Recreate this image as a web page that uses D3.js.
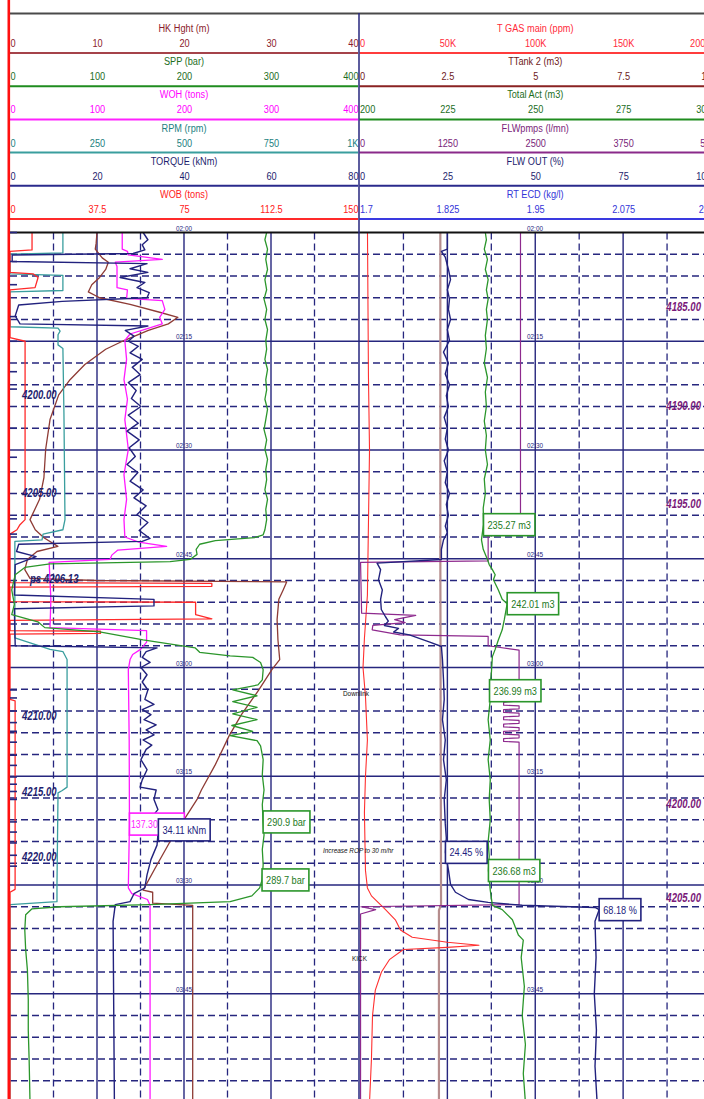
<!DOCTYPE html>
<html>
<head>
<meta charset="utf-8">
<script src="https://cdn.jsdelivr.net/npm/d3@7"></script>
<style>
  html, body { margin: 0; padding: 0; background: #fff; }
  svg { display: block; }
  text { font-family: "Liberation Sans", Arial, sans-serif; }
</style>
</head>
<body>
<svg id="log" width="704" height="1099"></svg>
<script>
// ---------- scale headers (title, domain, tick labels) ----------
const leftScaleNames  = ["HK Hght (m)", "SPP (bar)", "WOH (tons)", "RPM (rpm)", "TORQUE (kNm)", "WOB (tons)"];
const leftDomains     = [[0, 40], [0, 400], [0, 400], [0, 1000], [0, 80], [0, 150]];
const leftTickLabels  = [
  ["0", "10", "20", "30", "40"],
  ["0", "100", "200", "300", "400"],
  ["0", "100", "200", "300", "400"],
  ["0", "250", "500", "750", "1K"],
  ["0", "20", "40", "60", "80"],
  ["0", "37.5", "75", "112.5", "150"]
];
const rightScaleNames = ["T GAS main (ppm)", "TTank 2 (m3)", "Total Act (m3)", "FLWpmps (l/mn)", "FLW OUT (%)", "RT ECD (kg/l)"];
const rightDomains    = [[0, 200000], [0, 10], [200, 300], [0, 5000], [0, 100], [1.7, 2.2]];
const rightTickLabels = [
  ["0", "50K", "100K", "150K", "200K"],
  ["0", "2.5", "5", "7.5", "10"],
  ["200", "225", "250", "275", "300"],
  ["0", "1250", "2500", "3750", "5K"],
  ["0", "25", "50", "75", "100"],
  ["1.7", "1.825", "1.95", "2.075", "2.2"]
];

// ---------- time-indexed curves: [minutes after 02:00, value] ----------
const sppBar = [
  [0,295],[1,293],[2.3,296],[3.7,294],[5.1,296],[6.5,293],[7.9,295],[9.2,292],[10.6,295],[12,293],
  [13.4,296],[14.9,294],[16.1,295],[17.5,293],[18.9,296],[20.3,294],[21.7,295],[23,293],[24.4,296],
  [25.8,294],[27.2,292],[28.6,295],[29.9,293],[31.3,296],[32.7,294],[34.1,295],[35.5,293],[36.8,296],
  [38.2,294],[39.6,295],[41,293],[41.7,291],[42.1,281],[42.5,236],[43,218],[43.7,214],[44.4,215],
  [45.1,207],[45.4,184],[45.7,46],[46.2,17],[47.2,6],[49.3,2],[51.3,5],[52.7,2],[53.7,32],[54.5,40],
  [55.1,103],[56.2,153],[57.3,213],[57.9,218],[58.4,253],[58.6,279],[59.3,288],[60.3,291],[61.7,290],
  [62.4,285],[63.1,256],[63.9,284],[64.7,256],[65.5,284],[66.4,256],[67.2,284],[68,255],[68.8,279],
  [69.4,253],[70.1,284],[70.8,288],[72.7,291],[74.8,290],[76.9,292],[78.9,290],[81.3,290.9],[83.1,292],
  [85.1,290],[87.2,291],[89.3,289.7],[90.4,287],[91.5,278],[92.3,253],[92.7,161],[93,57],[93.3,25],
  [94.1,18],[96.2,17],[98.9,18],[101.7,20],[105.8,21],[110,21],[114.1,22],[120,23]
];
const hookHeight = [
  [0,10],[1.5,9.9],[2.3,9.8],[3.5,10.6],[4.1,11.3],[5.1,11],[6.2,10.3],[7.2,9.4],[8.2,9],[9,10.3],
  [9.9,13.8],[11,17.2],[11.7,19.3],[12.6,18.2],[13.5,15.9],[14.9,13.1],[16.1,11],[18.2,8.6],[20.3,6.9],
  [22.4,5.6],[25.8,4.6],[29.9,4.1],[33.8,3.9],[36.8,3.4],[39.6,2.3],[41,2.9],[42.1,3.9],[43.3,5.5],
  [44,3.1],[45.1,2],[46.5,1.7],[47.7,2.3],[48,9.9],[48.2,31.8],[49.3,31.4],[50.6,30.9],[53.4,30.7],
  [56.2,30.8],[58.9,31],[60.3,30.1],[63.1,28.6],[66.5,26.6],[69.4,25.2],[73.4,23.6],[76.9,22],
  [78.2,21.5],[83.8,18.5],[87.2,16.9],[90.7,15.3],[91,16.4],[92.5,16.4],[92.8,21],[120,21]
];
const wohTons = [
  [0,129],[2.3,129],[2.6,135],[3.1,136],[3.7,175],[4.1,121],[4.7,123],[7.6,123],[7.9,135],[9.1,134],
  [9.4,175],[10.6,178],[11.7,172],[12.6,175],[13.3,157],[14,138],[14.9,132],[17.5,134],[20.3,131],
  [23,135],[25.8,132],[29.9,136],[33.4,131],[36.8,134],[39.6,131],[42,132],[42.7,148],[43.3,180],
  [43.8,124],[44.5,117],[45.1,115],[45.5,45],[50.6,47],[54.5,46],[54.9,157],[56.5,157],[57.5,150],
  [58.2,141],[58.9,138],[60.3,136],[70,137],[81.6,137.3],[90.4,136],[91.2,140],[92,158],[92.8,161],[120,161]
];
const rpm = [
  [0,152],[2.8,152],[3,0],[5.7,0],[5.9,152],[8,152],[8.2,0],[13,0],[13.2,138],[13.6,144],[14.1,138],
  [15.5,138],[16,152],[25,155],[39.6,158],[41,152],[41.6,95],[42.4,92],[42.6,14],[55.9,14],[56.6,58],
  [57.5,115],[57.8,152],[58.9,164],[76.5,164],[77,149],[77.3,138],[89.9,135],[92.3,135],[92.7,0],[120,0]
];
const torqueKNm = [
  [0,30.6],[1,31.7],[1.7,30.4],[2.4,31],[2.9,28.3],[3.1,0.5],[4,0.5],[4.3,31.5],[5,27.6],[5.5,31.7],
  [6.2,25.3],[6.9,31],[7.6,29.2],[8.3,32],[9,31.5],[9.5,12],[10,2],[11.5,1.2],[12.6,2.3],[12.9,31.7],
  [13.5,26.5],[14.3,28.5],[15,27.2],[15.7,29.5],[16.6,27.6],[17.5,30.4],[18.6,28.1],[19.6,29.9],
  [20.7,27.2],[21.8,29],[22.9,27.9],[24,30.1],[25.2,27.2],[26.3,29.5],[27.4,26.9],[28.6,29.7],
  [29.7,27.4],[30.9,28.8],[32,26.9],[33.1,29.4],[34.3,27.6],[35.5,30.6],[36.6,28.5],[37.7,31.3],
  [38.9,29.2],[40,31.7],[41.1,29.7],[42.2,32.2],[42.6,30.4],[43,2],[44,1.5],[44.7,6],[45.8,1.2],
  [50,1],[50.6,33.1],[51.5,33.1],[51.9,1],[57,1.2],[57.3,33.8],[57.8,31.3],[58.6,30.4],[59.3,32.2],
  [60,30.1],[61,31.5],[62,30.4],[63.1,31.7],[64.4,31],[65.1,33.1],[65.8,30.4],[66.5,32.4],[67.2,30.8],
  [67.9,33.6],[68.6,31.3],[69.3,33.1],[70,30.6],[70.7,32.6],[71.3,31.3],[72.7,30.1],[74.1,31.5],
  [75.5,30.4],[76.5,29.9],[76.9,33.6],[78.2,33.1],[79.6,34],[80.6,32.6],[82.4,34.11],[84.5,33.8],
  [86.5,32.4],[88.6,31.5],[90.4,31],[91.2,28.5],[92.3,27.6],[92.7,24.2],[95,23.7],[120,24]
];
const wobTons = [
  [0,9.5],[2.4,9.5],[2.6,0],[5.5,0],[5.7,9.9],[6.2,12.1],[7.6,10.8],[7.9,0],[14.5,0],[15,6.5],
  [39.6,6.5],[40.3,4.3],[41,3],[41.6,0],[48.3,0],[48.4,87],[48.8,87],[48.9,0],[50.9,0],[51,80],
  [52.7,80],[53.3,87],[53.5,0],[54.9,0],[55,39],[55.3,39],[55.4,0],[64.4,0],[64.6,2.2],[90.6,2.2],
  [91,0],[120,0]
];
const totalGas = [
  [0,4540],[20,5100],[30,5700],[40,5100],[50,4500],[56,2800],[60,2000],[64,3400],[70,4500],[75,3400],
  [80,2800],[88,3400],[90.4,4500],[91.5,6800],[93.4,14800],[94.8,20400],[96.2,23300],[97.2,30000],
  [97.9,50000],[98.3,68000],[98.6,50000],[98.9,25000],[100.3,17000],[102,12500],[104.5,9000],
  [108,7400],[114,6800],[120,5700]
];
const tripTank2 = [[0,2.3],[45,2.3],[92.7,2.32],[93.5,2.26],[120,2.26]];
const totalActive = [
  [0,235.8],[1,236.1],[2.3,235.5],[3.7,236.4],[5.1,235.8],[6.5,236.6],[7.9,236.1],[9.2,236.6],
  [10.6,236.1],[12,236.4],[14.2,235.8],[16,236.1],[18,235.5],[20,236.4],[22,235.8],[24,236.1],
  [26,235.5],[28,236.1],[30,235.8],[32,236.4],[34,235.5],[36,235.8],[38,235.2],[40.3,235.27],
  [42.4,234.7],[43.7,235.2],[45.1,236.4],[45.8,236.9],[46.5,237.8],[47.2,238.6],[47.9,238.1],
  [49.3,239.5],[50.6,240.6],[51.2,242.01],[53.4,241.2],[54.8,240.6],[56.2,239.5],[57.5,238.6],
  [58.5,237.8],[60.9,237.5],[63.2,236.99],[64.4,237.2],[67.2,236.6],[70,237.2],[72.7,236.6],
  [75.5,237.2],[78.2,236.9],[81,237.2],[84,236.6],[86,236.9],[88,236.68],[90.7,237.2],[92.8,237.8],
  [93.4,240.6],[94.8,243.5],[96.9,245.2],[97.6,246.6],[100,246],[104,246.9],[108,246.3],[112,247.2],
  [116,246.6],[120,247.2]
];
const pumpFlow = [
  [0,2290],[41.7,2290],[41.8,1830],[45.3,1830],[45.5,15],[52.5,30],[52.8,800],[53.4,500],[53.8,650],
  [54.2,190],[54.8,180],[55.5,580],[55.7,1830],[57,1830],[57.6,2270],[64.6,2270],[64.8,2050],[65.2,2050],
  [65.3,2270],[65.7,2270],[65.8,2050],[66.2,2050],[66.3,2270],[66.7,2270],[66.8,2050],[67.2,2050],
  [67.3,2270],[67.7,2270],[67.8,2050],[68.2,2050],[68.3,2270],[68.7,2270],[68.8,2050],[69.2,2050],
  [69.3,2270],[69.7,2270],[69.8,2050],[70.2,2050],[70.3,2270],[92.7,2270],[93,20],[93.4,230],[94,15],[120,15]
];
const flowOut = [
  [0,25],[2.3,25],[2.6,23.3],[3.4,24.4],[5.1,25.3],[6.5,25.9],[7.9,25],[9.2,25.6],[10.6,25.3],[12,25.9],
  [13.4,25],[14.9,25.6],[16.5,23.9],[18,25.3],[19.5,24.4],[21,25.6],[22.5,24.7],[24,25.3],[25.5,24.1],
  [27,25],[28.5,24.4],[30,25.3],[31.5,24.1],[33,25],[34.5,24.4],[36,25.6],[37.5,24.7],[39,25.3],
  [40.5,24.4],[41.4,25],[42.4,23.9],[43.7,23.3],[45.1,23.3],[45.6,5],[46.5,6],[47.9,5.4],[49.3,6.5],
  [50.6,6],[52,6.2],[53,7.4],[53.6,8.2],[54.2,7.1],[54.6,11.1],[55.1,9.7],[55.5,14.2],[56.5,20],
  [57.1,23.3],[58.9,23.6],[61.7,23.9],[64.4,24.1],[67.2,23.6],[70,24.4],[72.7,23.9],[75.5,24.7],
  [78.2,24.1],[81.5,24.4],[83.5,24.7],[85.5,24.45],[87.9,25.3],[89.9,25.9],[91,27.3],[92,31],
  [92.4,36.6],[92.8,46.3],[93.1,67],[93.4,68.18],[95,67],[100,67.3],[105,66.8],[110,67.4],[115,67],[120,67.6]
];

// ---------- depth marks and annotations ----------
const depthLabelsLeft  = [[22.4,"4200.00"],[35.9,"4205.00"],[47.8,"ps 4206.13"],[66.7,"4210.00"],[77.2,"4215.00"],[86.2,"4220.00"]];
const depthLabelsRight = [[10.3,"4185.00"],[23.9,"4190.00"],[37.4,"4195.00"],[78.8,"4200.00"],[91.8,"4205.00"]];
const depthTickTimes   = [0,4,7.2,11.6,15,19.2,21.6,27,31,39.5,41.6,63.1,64.2,66,67.6,68.8,70.3,72.1,73.5,75.1,76.1,77.1,78.2,81.3,82.7,84.2,85.9,87.4];
const remarks = [[63.6,"Downlink",343,false],[85.2,"Increase ROP to 30 m/hr",323,true],[100.2,"KICK",352,false]];

// value call-outs: series, time, value, unit
const callouts = [
  ["woh",    81.6, 137.30, "tons"],
  ["torque", 82.4, 34.11,  "kNm"],
  ["spp",    81.3, 290.9,  "bar"],
  ["spp",    89.3, 289.7,  "bar"],
  ["tact",   40.3, 235.27, "m3"],
  ["tact",   51.2, 242.01, "m3"],
  ["tact",   63.2, 236.99, "m3"],
  ["flwout", 85.5, 24.45,  "%"],
  ["tact",   88.0, 236.68, "m3"],
  ["flwout", 93.4, 68.18,  "%"]
];

// ---------- layout ----------
const W = 704, H = 1099;
const SX = 0.8;                 // horizontal squeeze that gives a narrow face
const leftRange  = [10, 358];
const rightRange = [359.5, 711];
const rowLine0 = 53, rowStep = 33.2;
const plotTop = 232.5;
const navy = "#26267e";

const leftColors  = { title: ["#8b1c2c", "#1d6e1d", "#ff00ff", "#237f7f", "#1e1e6e", "#ff2020"],
                      line:  ["#a5434a", "#1f8c1f", "#ff22ff", "#3a9e9e", "#2a2a8c", "#ff2a2a"] };
const rightColors = { title: ["#ff2a3a", "#6e1a1a", "#1d6e1d", "#7a1f7a", "#1e1e6e", "#3434d8"],
                      line:  ["#ff3c3c", "#8a2222", "#1f8c1f", "#8a2a8a", "#2a2a8c", "#3a3ae0"] };

const svg = d3.select("#log");
const base = new Date(2000, 0, 1, 2, 0, 0);
const y = d3.scaleTime().domain([base, d3.timeMinute.offset(base, 120)]).range([plotTop, 1102.5]);
const yT = m => y(new Date(base.getTime() + m * 60000));

const leftScales  = leftDomains.map(d => d3.scaleLinear().domain(d).range(leftRange));
const rightScales = rightDomains.map(d => d3.scaleLinear().domain(d).range(rightRange));

// narrow text helper
function ntext(parent, x, yy, str, size, fill, anchor) {
  return parent.append("text")
    .attr("transform", `translate(${x},${yy}) scale(${SX},1)`)
    .attr("text-anchor", anchor || "start")
    .attr("fill", fill).style("font-size", size + "px").text(str);
}

// ---------- header ----------
const header = svg.append("g");
function drawHeader(names, scales, labels, colors, range) {
  names.forEach((name, i) => {
    const ly = rowLine0 + i * rowStep;
    const s = scales[i];
    const dom = s.domain();
    const vals = d3.range(5).map(k => dom[0] + (dom[1] - dom[0]) * k / 4);
    const ax = d3.axisTop(s).tickValues(vals).tickSize(0).tickPadding(6)
      .tickFormat((d, k) => labels[i][k]);
    const g = header.append("g").attr("transform", `translate(0,${ly})`).call(ax);
    g.select(".domain").remove();
    g.selectAll("text")
      .attr("fill", colors.title[i]).style("font-size", "11.5px")
      .style("font-family", '"Liberation Sans", Arial, sans-serif')
      .attr("transform", `scale(${SX},1)`)
      .attr("text-anchor", (d, k) => k === 0 ? "start" : (k === 4 ? "end" : "middle"));
    ntext(header, (range[0] + range[1]) / 2, ly - 21, name, 11.5, colors.title[i], "middle");
    header.append("line").attr("x1", range[0]).attr("x2", Math.min(range[1], W))
      .attr("y1", ly).attr("y2", ly).attr("stroke", colors.line[i]).attr("stroke-width", 2);
  });
}
drawHeader(leftScaleNames, leftScales, leftTickLabels, leftColors, leftRange);
drawHeader(rightScaleNames, rightScales, rightTickLabels, rightColors, rightRange);

// ---------- grid ----------
const grid = svg.append("g");
const gridX = (scale, step, major) => {
  const [a, b] = scale.domain();
  return d3.range(a, b + step / 2, step).map(v => ({ x: scale(v), major: Math.abs((v - a) / major - Math.round((v - a) / major)) < 1e-6 }));
};
const vLines = gridX(leftScales[0], 5, 10).concat(gridX(rightScales[0], 25000, 50000))
  .filter(d => d.x > 12 && d.x < 704 && Math.abs(d.x - 358) > 2 && Math.abs(d.x - 359.5) > 2);
grid.selectAll(".v").data(vLines).join("line")
  .attr("x1", d => d.x).attr("x2", d => d.x).attr("y1", plotTop).attr("y2", H)
  .attr("stroke", navy).attr("stroke-width", d => d.major ? 1.4 : 1.3)
  .attr("stroke-dasharray", d => d.major ? null : "7,4");
const hTimes = d3.range(3, 120, 3);
grid.selectAll(".h").data(hTimes).join("line")
  .attr("x1", 10).attr("x2", W).attr("y1", d => yT(d)).attr("y2", d => yT(d))
  .attr("stroke", navy).attr("stroke-width", d => d % 15 === 0 ? 1.6 : 1.4)
  .attr("stroke-dasharray", d => d % 15 === 0 ? null : "7,4");

// time labels on each track
const timeTicks = y.ticks(d3.timeMinute.every(15)).filter(d => y(d) < H);
const fmt = d3.timeFormat("%H:%M");
[(leftRange[0] + leftRange[1]) / 2, 535].forEach(cx => {
  timeTicks.forEach(d => ntext(grid, cx, y(d) - 2, fmt(d), 8, navy, "middle"));
});

// ---------- curves ----------
const curves = svg.append("g").attr("fill", "none").attr("stroke-linejoin", "round");
const series = {
  hk:     { data: hookHeight,  scale: leftScales[0],  color: "#8e3b35", w: 1.3 },
  teal:   { data: rpm,         scale: leftScales[3],  color: "#3a9e9e", w: 1.3 },
  wob:    { data: wobTons,     scale: leftScales[5],  color: "#ff2a2a", w: 1.3 },
  woh:    { data: wohTons,     scale: leftScales[2],  color: "#ff1aff", w: 1.3 },
  torque: { data: torqueKNm,   scale: leftScales[4],  color: "#22227e", w: 1.4 },
  spp:    { data: sppBar,      scale: leftScales[1],  color: "#2b962b", w: 1.3 },
  ttank:  { data: tripTank2,   scale: rightScales[1], color: "#b58d8d", w: 2.2 },
  gas:    { data: totalGas,    scale: rightScales[0], color: "#ff3030", w: 1.1 },
  pump:   { data: pumpFlow,    scale: rightScales[3], color: "#8e2a8e", w: 1.2 },
  flwout: { data: flowOut,     scale: rightScales[4], color: "#22227e", w: 1.4 },
  tact:   { data: totalActive, scale: rightScales[2], color: "#2b962b", w: 1.3 }
};
Object.values(series).forEach(s => {
  const line = d3.line().x(d => s.scale(d[1])).y(d => yT(d[0]));
  curves.append("path").attr("d", line(s.data)).attr("stroke", s.color).attr("stroke-width", s.w);
});

// ---------- frame ----------
svg.append("line").attr("x1", 9).attr("x2", W).attr("y1", 13.5).attr("y2", 13.5).attr("stroke", "#4a4a4a").attr("stroke-width", 2);
svg.append("line").attr("x1", 9).attr("x2", W).attr("y1", plotTop).attr("y2", plotTop).attr("stroke", "#111").attr("stroke-width", 2);
svg.append("line").attr("x1", 359).attr("x2", 359).attr("y1", 13).attr("y2", H).attr("stroke", navy).attr("stroke-width", 1.5);
svg.append("line").attr("x1", 8.8).attr("x2", 8.8).attr("y1", 0).attr("y2", H).attr("stroke", "#ff1010").attr("stroke-width", 2.6);

// depth ticks
svg.append("g").selectAll("line").data(depthTickTimes).join("line")
  .attr("x1", 10).attr("x2", 17).attr("y1", d => yT(d)).attr("y2", d => yT(d))
  .attr("stroke", navy).attr("stroke-width", 1.6);

// depth labels
const dl = svg.append("g").style("font-weight", "bold").style("font-style", "italic");
depthLabelsLeft.forEach(([t, s]) => ntext(dl, s.startsWith("ps") ? 30 : 22, yT(t) + 4, s, 12, "#1e1e70"));
depthLabelsRight.forEach(([t, s]) => ntext(dl, 701, yT(t) + 4, s, 12, "#7a1a7a", "end"));

// remarks
const rm = svg.append("g");
remarks.forEach(([t, s, x, it]) => ntext(rm, x, yT(t) + 2.5, s, 8, "#111").style("font-style", it ? "italic" : "normal"));

// value call-outs: box starts at the curve value; the WOH box is partly hidden by the torque box
const boxes = svg.append("g");
callouts.forEach(([key, t, v, unit]) => {
  const s = series[key];
  const x0 = s.scale(v), cy = yT(t);
  const g = boxes.append("g");
  const rect = g.append("rect").attr("fill", "#fff").attr("stroke", s.color).attr("stroke-width", 1.6);
  const hidden = key === "woh";
  const fill = key === "spp" || key === "tact" ? "#1d7a1d" : s.color;
  const str = hidden ? v.toFixed(2) : `${v.toFixed(key === "spp" ? 1 : 2)} ${unit}`;
  const txt = ntext(g, x0 + (hidden ? 1.5 : 4), cy + 4, str, hidden ? 11 : 11.5, fill);
  const bw = txt.node().getComputedTextLength() * SX + (hidden ? 28 : 8);
  rect.attr("x", x0).attr("y", cy - 11).attr("width", bw).attr("height", 22);
});
</script>
</body>
</html>
